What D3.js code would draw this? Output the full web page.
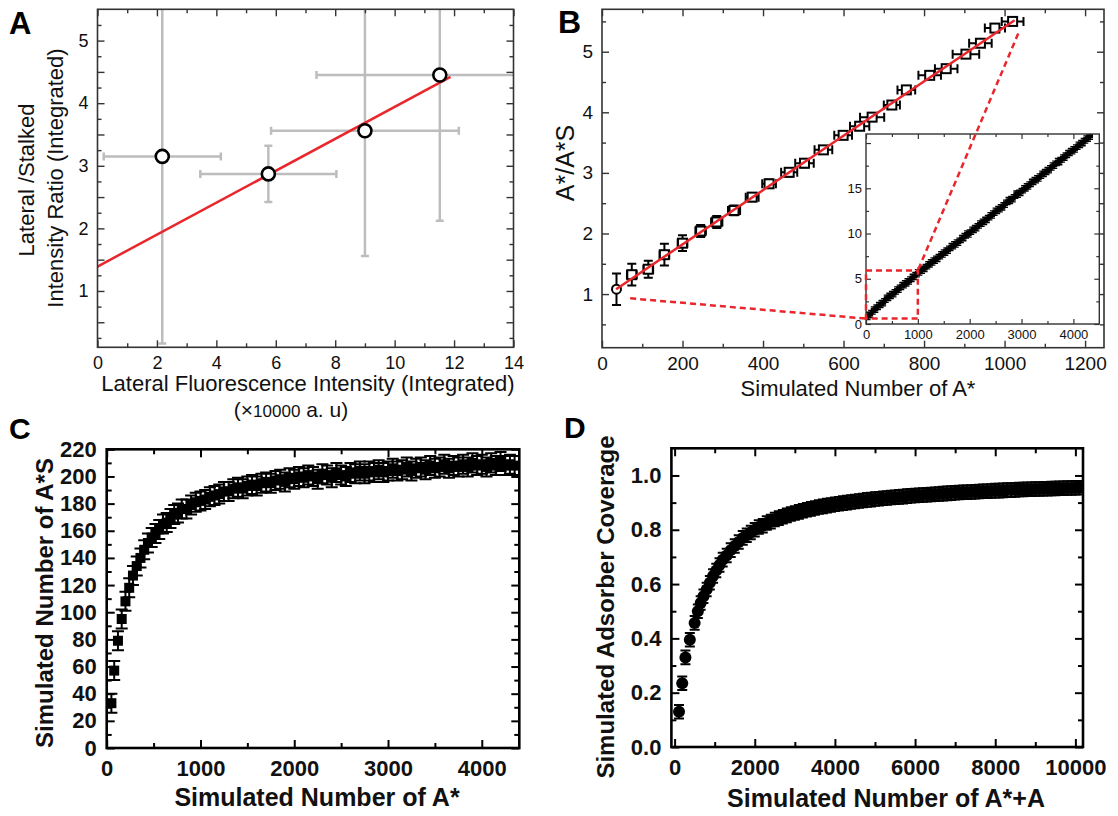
<!DOCTYPE html>
<html>
<head>
<meta charset="utf-8">
<script src="https://d3js.org/d3.v7.min.js"></script>
<style>
  body { margin: 0; background: #fff; }
  svg { display: block; }
</style>
</head>
<body>
<svg id="fig" width="1118" height="816"></svg>
<script>
// ---- panel A: ratio vs lateral intensity (x10000 a.u.)
const aX = [2.18, 5.75, 9.0, 11.52]
const aY = [3.15, 2.87, 3.56, 4.45]
const aXErr = [1.97, 2.29, 3.16, 4.15]
const aYErr = [2.99, 0.45, 2.0, 2.33]
const aFit = [[0, 1.39], [11.88, 4.42]]

// ---- panel B: A*/A*S vs simulated A*
const bX = [36, 74, 115, 155, 200, 245, 285, 328, 373, 415, 465, 503, 550, 599, 640, 671, 720, 756, 814, 855, 904, 940, 976, 1020]
const bY = [1.08, 1.32, 1.41, 1.65, 1.84, 2.04, 2.19, 2.38, 2.60, 2.82, 3.01, 3.16, 3.38, 3.62, 3.77, 3.92, 4.12, 4.37, 4.61, 4.72, 4.96, 5.14, 5.39, 5.50]
const bXErr = [0, 12, 12, 12, 12, 13, 14, 15, 16, 17, 20, 23, 22, 22, 24, 30, 20, 22, 28, 28, 33, 28, 25, 27]
const bYErr = [0.26, 0.18, 0.14, 0.18, 0.13, 0.1, 0.1, 0.08, 0.07, 0.07, 0.07, 0.07, 0.06, 0.06, 0.06, 0.06, 0.06, 0.06, 0.06, 0.06, 0.06, 0.06, 0.06, 0.05]
const bFit = [[35, 1.08], [1025, 5.52]]

// inset of B (full range)
const insetPts = [[40,0.9],[90,1.1],[140,1.5],[190,1.7],[240,2.0],[290,2.2],[340,2.4],[390,2.8],[440,3.0],[490,3.2],[540,3.4],[590,3.7],[640,3.9],[690,4.2],[740,4.4],[790,4.6],[840,4.8],[890,5.1],[940,5.3],[990,5.6],[1040,5.8],[1090,6.0],[1140,6.2],[1190,6.5],[1240,6.7],[1290,6.9],[1340,7.1],[1390,7.3],[1440,7.6],[1490,7.8],[1540,8.0],[1590,8.2],[1640,8.5],[1690,8.7],[1740,8.9],[1790,9.1],[1840,9.4],[1890,9.6],[1940,9.9],[1990,10.0],[2040,10.3],[2090,10.5],[2140,10.7],[2190,11.0],[2240,11.2],[2290,11.4],[2340,11.6],[2390,11.9],[2440,12.1],[2490,12.4],[2540,12.6],[2590,12.8],[2640,13.0],[2690,13.3],[2740,13.6],[2790,13.7],[2840,13.9],[2890,14.3],[2940,14.4],[2990,14.6],[3040,14.9],[3090,15.1],[3140,15.3],[3190,15.6],[3240,15.8],[3290,16.0],[3340,16.2],[3390,16.5],[3440,16.7],[3490,16.9],[3540,17.1],[3590,17.4],[3640,17.6],[3690,17.9],[3740,18.0],[3790,18.3],[3840,18.5],[3890,18.8],[3940,19.0],[3990,19.2],[4040,19.4],[4090,19.7],[4140,19.9],[4190,20.1],[4240,20.4],[4290,20.6],[4330,20.8]]
const insetErr = 0.4
const zoomBoxX = [0, 1000]
const zoomBoxY = [0.6, 5.9]
const guideMain = [[70, 0.93], [1034, 5.3]]
const guideInset = [[0, 0.6], [1000, 5.9]]

// ---- panel C: A*S vs A*
const cPts = [[50,33],[80,57],[120,79],[160,95],[200,108],[240,118],[280,127],[320,134],[360,140],[400,146],[440,151],[480,155],[520,158],[560,161],[600,165],[640,166],[680,169],[720,172],[760,173],[800,176],[850,176],[900,179],[950,181],[1000,182],[1050,183],[1100,185],[1150,186],[1200,187],[1250,189],[1300,189],[1350,191],[1400,192],[1450,191],[1500,193],[1550,194],[1600,193],[1650,195],[1700,196],[1750,195],[1800,197],[1850,198],[1900,196],[1950,199],[2000,198],[2050,200],[2100,199],[2150,201],[2200,200],[2250,198],[2300,202],[2350,201],[2400,199],[2450,203],[2500,201],[2550,200],[2600,203],[2650,202],[2700,204],[2750,202],[2800,204],[2850,203],[2900,205],[2950,203],[3000,204],[3050,206],[3100,204],[3150,205],[3200,207],[3250,204],[3300,206],[3350,207],[3400,205],[3450,208],[3500,206],[3550,207],[3600,209],[3650,206],[3700,208],[3750,207],[3800,209],[3850,207],[3900,210],[3950,208],[4000,209],[4050,207],[4100,210],[4150,208],[4200,211],[4250,208],[4300,209],[4350,208]]
const cErrY = 7

// ---- panel D: coverage vs A*+A
const dPts = [[110,0.13],[190,0.235],[270,0.33],[380,0.395],[500,0.457],[580,0.50],[650,0.53],[720,0.555],[800,0.58],[880,0.605],[960,0.63],[1040,0.65],[1120,0.67],[1200,0.69],[1300,0.705],[1400,0.725],[1500,0.74],[1600,0.755],[1700,0.77],[1800,0.78],[1900,0.79],[2000,0.80],[2100,0.81],[2200,0.815],[2300,0.825],[2400,0.83],[2500,0.838],[2600,0.843],[2700,0.848],[2800,0.853],[2900,0.858],[3000,0.862],[3100,0.866],[3200,0.87],[3300,0.874],[3400,0.877],[3500,0.88],[3600,0.884],[3700,0.886],[3800,0.889],[3900,0.891],[4000,0.894],[4100,0.896],[4200,0.898],[4300,0.9],[4400,0.902],[4500,0.904],[4600,0.906],[4700,0.908],[4800,0.91],[4900,0.911],[5000,0.913],[5100,0.914],[5200,0.916],[5300,0.917],[5400,0.919],[5500,0.92],[5600,0.921],[5700,0.922],[5800,0.924],[5900,0.925],[6000,0.926],[6100,0.927],[6200,0.928],[6300,0.929],[6400,0.93],[6500,0.931],[6600,0.932],[6700,0.933],[6800,0.934],[6900,0.935],[7000,0.936],[7100,0.937],[7200,0.938],[7300,0.938],[7400,0.939],[7500,0.94],[7600,0.941],[7700,0.942],[7800,0.942],[7900,0.943],[8000,0.944],[8100,0.944],[8200,0.945],[8300,0.946],[8400,0.946],[8500,0.947],[8600,0.948],[8700,0.948],[8800,0.949],[8900,0.949],[9000,0.95],[9100,0.95],[9200,0.951],[9300,0.951],[9400,0.952],[9500,0.952],[9600,0.953],[9700,0.953],[9800,0.954],[9900,0.954],[10000,0.955],[10100,0.955]]
const dErrY = 0.025

// ---- tick values
const aTicksX = [0, 2, 4, 6, 8, 10, 12, 14], aMinorX = [1, 3, 5, 7, 9, 11, 13]
const aTicksY = [0.5, 1, 1.5, 2, 2.5, 3, 3.5, 4, 4.5, 5], aMinorY = [0.25, 0.75, 1.25, 1.75, 2.25, 2.75, 3.25, 3.75, 4.25, 4.75, 5.25]
const bTicksX = [0, 200, 400, 600, 800, 1000, 1200], bMinorX = [100, 300, 500, 700, 900, 1100]
const bTicksY = [1, 2, 3, 4, 5], bMinorY = [0.5, 1.5, 2.5, 3.5, 4.5, 5.5]
const iTicksX = [0, 1000, 2000, 3000, 4000], iMinorX = [500, 1500, 2500, 3500]
const iTicksY = [0, 5, 10, 15, 20], iMinorY = [2.5, 7.5, 12.5, 17.5]
const cTicksX = [0, 1000, 2000, 3000, 4000], cMinorX = [500, 1500, 2500, 3500]
const cTicksY = [0, 20, 40, 60, 80, 100, 120, 140, 160, 180, 200, 220], cMinorY = [10, 30, 50, 70, 90, 110, 130, 150, 170, 190, 210]
const dTicksX = [0, 2000, 4000, 6000, 8000, 10000], dMinorX = [1000, 3000, 5000, 7000, 9000]
const dTicksY = [0, 0.2, 0.4, 0.6, 0.8, 1.0], dMinorY = [0.1, 0.3, 0.5, 0.7, 0.9]

const FONT = "'Liberation Sans', Arial, Helvetica, sans-serif"
const RED = "#e8262b"
const GREY = "#bdbdbd"

const svg = d3.select("#fig")

const ax = d3.scaleLinear().domain([0, 14]).range([97.5, 513.5])
const ay = d3.scaleLinear().domain([0.1, 5.5]).range([347.3, 9.3])
const bx = d3.scaleLinear().domain([0, 1247]).range([602, 1104])
const by = d3.scaleLinear().domain([0.115, 5.7]).range([347.7, 9.3])
const ix = d3.scaleLinear().domain([0, 4500]).range([866, 1099.3])
const iy = d3.scaleLinear().domain([0, 21]).range([324, 134])
const cx = d3.scaleLinear().domain([0, 4400]).range([106.7, 519.3])
const cy = d3.scaleLinear().domain([0, 220]).range([748, 449.3])
const dx = d3.scaleLinear().domain([-80, 10190]).range([671.4, 1083])
const dy = d3.scaleLinear().domain([0, 1.1]).range([747, 448.3])

function clip(id, x, y) {
  const [l, r] = x.range(), [b, t] = y.range()
  svg.append("clipPath").attr("id", id)
    .append("rect").attr("x", l).attr("y", t).attr("width", r - l).attr("height", b - t)
  return svg.append("g").attr("clip-path", `url(#${id})`)
}

// box with inward ticks on all four sides, labels bottom + left
function frame(g, x, y, o) {
  const [l, r] = x.range(), [b, t] = y.range()
  const sides = [
    [d3.axisBottom, x, 0, b, o.x, true],
    [d3.axisTop, x, 0, t, o.x, false],
    [d3.axisLeft, y, l, 0, o.y, true],
    [d3.axisRight, y, r, 0, o.y, false]
  ]
  sides.forEach(([make, s, tx, ty, k, lab]) => {
    const ga = g.append("g").attr("transform", `translate(${tx},${ty})`)
    ga.call(make(s).tickValues(k.major).tickSize(-o.len[0]).tickPadding(k.pad)
      .tickFormat(lab ? k.fmt : () => ""))
    ga.append("g").call(make(s).tickValues(k.minor).tickSize(-o.len[1]).tickFormat(() => ""))
    ga.selectAll(".domain").remove()
    ga.selectAll("line").attr("stroke", o.color).attr("stroke-width", o.tickW)
    ga.selectAll("text").attr("font-family", FONT).attr("font-size", k.size)
      .attr("font-weight", o.weight).attr("fill", "#111")
  })
  g.append("rect").attr("x", l).attr("y", t).attr("width", r - l).attr("height", b - t)
    .attr("fill", "none").attr("stroke", o.color).attr("stroke-width", o.frameW)
}

function errPath(x, y, cap) {
  return d => {
    let p = ""
    const px = x(d[0]), py = y(d[1])
    if (d[3]) {
      const y0 = y(d[1] - d[3]), y1 = y(d[1] + d[3])
      p += `M${px},${y0}V${y1}M${px - cap},${y0}h${2 * cap}M${px - cap},${y1}h${2 * cap}`
    }
    if (d[2]) {
      const x0 = x(d[0] - d[2]), x1 = x(d[0] + d[2])
      p += `M${x0},${py}H${x1}M${x0},${py - cap}v${2 * cap}M${x1},${py - cap}v${2 * cap}`
    }
    return p
  }
}

function label(text, x, y, size, weight, rotate) {
  return svg.append("text")
    .attr("transform", `translate(${x},${y})` + (rotate ? " rotate(-90)" : ""))
    .attr("text-anchor", "middle")
    .attr("font-family", FONT).attr("font-size", size).attr("font-weight", weight)
    .attr("fill", "#111").text(text)
}

function letter(t, x, y, size) {
  svg.append("text").attr("x", x).attr("y", y).attr("font-family", FONT)
    .attr("font-size", size).attr("font-weight", "bold").attr("fill", "#000").text(t)
}

const intFmt = d => Number.isInteger(d) ? d : ""

// ================= A
{
  const g = clip("clipA", ax, ay)
  const rows = aX.map((v, i) => [v, aY[i], aXErr[i], aYErr[i]])
  g.selectAll("path.err").data(rows).join("path")
    .attr("d", errPath(ax, ay, 4)).attr("fill", "none")
    .attr("stroke", GREY).attr("stroke-width", 2.5)
  g.append("path").attr("d", d3.line().x(d => ax(d[0])).y(d => ay(d[1]))(aFit))
    .attr("stroke", RED).attr("stroke-width", 2.5).attr("fill", "none")
  g.selectAll("circle").data(rows).join("circle")
    .attr("cx", d => ax(d[0])).attr("cy", d => ay(d[1])).attr("r", 6.5)
    .attr("fill", "#fff").attr("stroke", "#000").attr("stroke-width", 2.6)

  frame(svg.append("g"), ax, ay, {
    x: { major: aTicksX, minor: aMinorX, pad: 9, size: 18, fmt: d => d },
    y: { major: aTicksY, minor: aMinorY, pad: 9, size: 18, fmt: intFmt },
    len: [7, 4], color: "#333", tickW: 1.4, frameW: 1.6, weight: "normal"
  })
  label("Lateral /Stalked", 34, 180, 22, "normal", true)
  label("Intensity Ratio (Integrated)", 63, 178, 22, "normal", true)
  label("Lateral Fluorescence Intensity (Integrated)", 308, 391, 22, "normal")
  const u = label("", 291, 417, 21, "normal")
  u.append("tspan").text("(×")
  u.append("tspan").attr("font-size", 17).text("10000")
  u.append("tspan").text(" a. u)")
  letter("A", 9, 34, 31)
}

// ================= B
{
  const g = clip("clipB", bx, by)
  const rows = bX.map((v, i) => [v, bY[i], bXErr[i], bYErr[i]])
  g.selectAll("path.err").data(rows).join("path")
    .attr("d", errPath(bx, by, 4.5)).attr("fill", "none")
    .attr("stroke", "#000").attr("stroke-width", 2)
  g.selectAll("rect.pt").data(rows.slice(1)).join("rect").attr("class", "pt")
    .attr("x", d => bx(d[0]) - 4.5).attr("y", d => by(d[1]) - 4.5)
    .attr("width", 9).attr("height", 9)
    .attr("fill", "#fff").attr("stroke", "#000").attr("stroke-width", 2)
  g.selectAll("circle.pt").data(rows.slice(0, 1)).join("circle").attr("class", "pt")
    .attr("cx", d => bx(d[0])).attr("cy", d => by(d[1])).attr("r", 4.5)
    .attr("fill", "#fff").attr("stroke", "#000").attr("stroke-width", 2)
  g.append("path").attr("d", d3.line().x(d => bx(d[0])).y(d => by(d[1]))(bFit))
    .attr("stroke", RED).attr("stroke-width", 2.5).attr("fill", "none")

  frame(svg.append("g"), bx, by, {
    x: { major: bTicksX, minor: bMinorX, pad: 9, size: 19, fmt: d => d },
    y: { major: bTicksY, minor: bMinorY, pad: 9, size: 19, fmt: d => d },
    len: [7, 4], color: "#333", tickW: 1.4, frameW: 1.6, weight: "normal"
  })
  label("Simulated Number of A*", 858, 396, 22, "normal")
  label("A*/A*S", 574, 163, 25, "normal", true)
  letter("B", 558, 33, 32)

  // inset
  const [il, ir] = ix.range(), [ib, it] = iy.range()
  svg.append("rect").attr("x", il).attr("y", it).attr("width", ir - il).attr("height", ib - it)
    .attr("fill", "#fff")
  const gi = clip("clipI", ix, iy)
  gi.selectAll("path.err").data(insetPts).join("path")
    .attr("d", d => errPath(ix, iy, 2.5)([d[0], d[1], 0, insetErr]))
    .attr("fill", "none").attr("stroke", "#000").attr("stroke-width", 1.3)
  gi.selectAll("rect.pt").data(insetPts).join("rect").attr("class", "pt")
    .attr("x", d => ix(d[0]) - 2.5).attr("y", d => iy(d[1]) - 2.5)
    .attr("width", 5).attr("height", 5).attr("fill", "#000")
  frame(svg.append("g"), ix, iy, {
    x: { major: iTicksX, minor: iMinorX, pad: 6, size: 13, fmt: d => d },
    y: { major: iTicksY, minor: iMinorY, pad: 4, size: 13, fmt: d => d < 20 ? d : "" },
    len: [5, 3], color: "#333", tickW: 1.2, frameW: 1.4, weight: "normal"
  })

  // zoom guides
  const dash = sel => sel.attr("fill", "none").attr("stroke", RED)
    .attr("stroke-width", 2.5).attr("stroke-dasharray", "6,4")
  svg.append("rect").call(dash)
    .attr("x", ix(zoomBoxX[0])).attr("y", iy(zoomBoxY[1]))
    .attr("width", ix(zoomBoxX[1]) - ix(zoomBoxX[0]))
    .attr("height", iy(zoomBoxY[0]) - iy(zoomBoxY[1]))
  guideMain.forEach((m, i) => {
    svg.append("line").call(dash)
      .attr("x1", bx(m[0])).attr("y1", by(m[1]))
      .attr("x2", ix(guideInset[i][0])).attr("y2", iy(guideInset[i][1]))
  })
}

// ================= C
{
  const g = clip("clipC", cx, cy)
  g.selectAll("path.err").data(cPts).join("path")
    .attr("d", d => errPath(cx, cy, 6)([d[0], d[1], 0, cErrY]))
    .attr("fill", "none").attr("stroke", "#000").attr("stroke-width", 2)
  g.selectAll("rect.pt").data(cPts).join("rect").attr("class", "pt")
    .attr("x", d => cx(d[0]) - 5).attr("y", d => cy(d[1]) - 5)
    .attr("width", 10).attr("height", 10).attr("fill", "#000")
  frame(svg.append("g"), cx, cy, {
    x: { major: cTicksX, minor: cMinorX, pad: 12, size: 22, fmt: d => d },
    y: { major: cTicksY, minor: cMinorY, pad: 10, size: 22, fmt: d => d },
    len: [8, 5], color: "#000", tickW: 2, frameW: 2.6, weight: "bold"
  })
  label("Simulated Number of A*S", 52.5, 603, 24, "bold", true)
  label("Simulated Number of A*", 317, 806, 25, "bold")
  letter("C", 9, 439, 30)
}

// ================= D
{
  const g = clip("clipD", dx, dy)
  g.selectAll("path.err").data(dPts).join("path")
    .attr("d", d => errPath(dx, dy, 5)([d[0], d[1], 0, dErrY]))
    .attr("fill", "none").attr("stroke", "#000").attr("stroke-width", 2)
  g.selectAll("circle.pt").data(dPts).join("circle").attr("class", "pt")
    .attr("cx", d => dx(d[0])).attr("cy", d => dy(d[1])).attr("r", 6)
    .attr("fill", "#000")
  frame(svg.append("g"), dx, dy, {
    x: { major: dTicksX, minor: dMinorX, pad: 12, size: 22, fmt: d => d },
    y: { major: dTicksY, minor: dMinorY, pad: 10, size: 22, fmt: d3.format(".1f") },
    len: [8, 5], color: "#000", tickW: 2, frameW: 2.6, weight: "bold"
  })
  label("Simulated Adsorber Coverage", 613.5, 607, 24, "bold", true)
  label("Simulated Number of A*+A", 886, 807, 25, "bold")
  letter("D", 564, 438, 30)
}
</script>
</body>
</html>
